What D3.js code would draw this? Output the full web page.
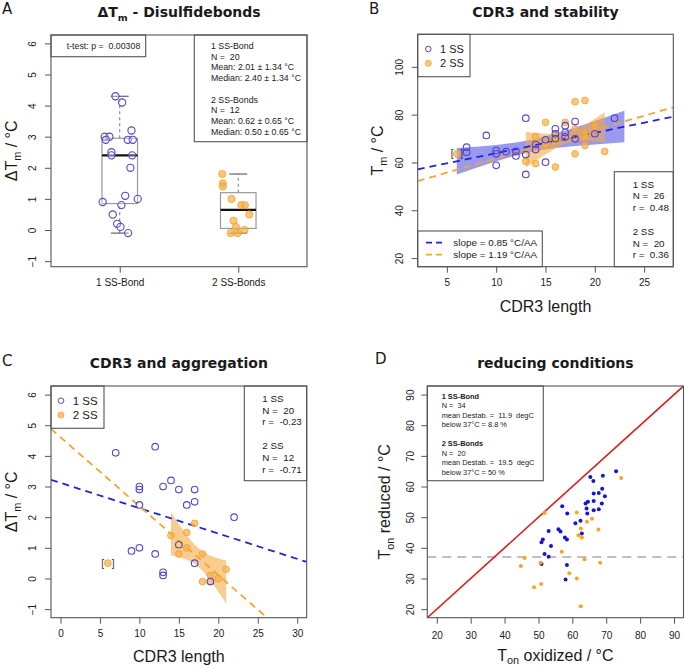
<!DOCTYPE html>
<html><head><meta charset="utf-8">
<script src="https://cdn.jsdelivr.net/npm/d3@7"></script>
<style>body{margin:0;background:#fff} svg{display:block} text{white-space:pre}</style>
</head><body><svg id="c" width="685" height="668"></svg>
<script>
// ---------------- DATA ----------------
// Panel A: ΔTm by number of disulfide bonds
const catsA = ["1 SS-Bond", "2 SS-Bonds"];
const dtm1 = [4.3,4.1,3.2,3.0,3.0,2.9,2.9,2.9,2.5,2.4,2.4,2.0,1.1,0.9,1.0,0.8,0.5,0.2,0.1,-0.1];
const jit1 = [-0.036,0.02,0.099,-0.127,-0.087,-0.118,0.068,0.11,-0.07,-0.07,0.105,0.09,0.046,-0.144,0.152,0.014,-0.059,-0.022,0.006,0.071];
const dtm2 = [1.8,1.5,1.4,1.0,0.8,0.8,0.5,0.3,0.1,0.0,-0.1,-0.1];
const jit2 = [-0.135,-0.13,-0.13,-0.057,0.025,0.056,0.093,-0.04,-0.02,0.053,-0.065,-0.006];
const ticksA = [-1,0,1,2,3,4,5,6];
const pTextA = "t-test: p =  0.00308";
const statsA = ["1 SS-Bond","N =  20","Mean: 2.01 ± 1.34 °C","Median: 2.40 ± 1.34 °C","","2 SS-Bonds","N =  12","Mean: 0.62 ± 0.65 °C","Median: 0.50 ± 0.65 °C"];

// Panel B: CDR3 length vs Tm
const cdrB1 = [7,7,9,10,10,10,11,12,12,13,13,13,14,14,15,15,16,16,16,17,17,17,18,18,20,22];
const tmB1  = [66.4,64.3,71.3,65.0,63.6,58.8,64.5,64.6,62.7,78.5,63.3,55.0,65.4,67.5,60.1,69.5,74.1,72.0,70.0,75.4,70.6,72.5,77.1,69.9,72.0,78.5];
const cdrB2 = [6,13,14,14,15,15,16,16,16,17,18,18,18,19,19,19,19,20,20,21];
const tmB2  = [63.6,60.4,59.5,70.8,76.8,67.4,71.3,58.1,69.0,76.8,85.4,74.0,63.6,85.9,72.0,70.6,67.1,75.4,73.4,64.6];
const fitB_int = [55.4, 49.8], fitB_slope = [0.85, 1.19];
const bandB1_x  = [6,8,10,12,14,16,18,20,23];
const bandB1_lo = [55.0,57.8,60.5,62.9,64.8,66.0,66.9,67.5,68.4];
const bandB1_hi = [66.0,66.6,67.3,68.3,69.8,72.0,74.5,77.3,81.6];
const bandB2_x  = [13,14,15,16,17,18,19,20,21];
const bandB2_lo = [57.9,60.6,63.3,65.8,67.9,69.0,69.1,68.9,68.5];
const bandB2_hi = [72.7,72.4,72.0,71.8,72.1,73.5,75.7,78.3,81.0];
const xTicksB = [5,10,15,20,25], yTicksB = [20,40,60,80,100];
const legB = ["1 SS","2 SS"];
const slopeB = ["slope = 0.85 °C/AA","slope = 1.19 °C/AA"];
const statsB = ["1 SS","N =  26","r =  0.48","","2 SS","N =  20","r =  0.36"];

// Panel C: CDR3 length vs ΔTm
const cdrC1 = [7,12,10,10,13,14,15,17,10,16,17,22,9,10,12,13,13,15,17,19];
const dtmC1 = [4.1,4.3,3.0,2.9,3.0,3.2,2.9,2.9,2.4,2.4,2.5,2.0,0.9,1.0,0.8,0.2,0.1,1.1,0.5,-0.1];
const cdrC2 = [6,14,16,17,15,16,18,19,19,18,20,21];
const dtmC2 = [0.5,1.4,1.5,1.8,0.8,1.0,0.8,0.1,-0.1,-0.1,0.0,0.3];
const fitC_int = [3.12, 4.61], fitC_slope = [-0.0827, -0.225];
const bandC2_x  = [14,15,16,17,18,19,20,21];
const bandC2_lo = [0.76,0.70,0.61,0.48,0.25,-0.07,-0.43,-0.82];
const bandC2_hi = [2.16,1.78,1.41,1.10,0.87,0.74,0.65,0.59];
const xTicksC = [0,5,10,15,20,25,30], yTicksC = [-1,0,1,2,3,4,5,6];
const statsC = ["1 SS","N =  20","r =  -0.23","","2 SS","N =  12","r =  -0.71"];

// Panel D: Ton oxidized vs reduced
const toxD1 = [65.3,66.2,69.0,72.9,68.8,66.3,67.8,69.6,63.9,64.6,66.3,68.7,64.2,64.4,66.3,67.8,57.0,58.5,60.9,62.4,62.8,53.0,55.9,56.5,57.8,58.4,51.3,50.9,53.7,51.8,53.0,50.9,58.4,58.0];
const tredD1 = [63.1,61.8,63.5,65.0,59.3,57.7,57.9,56.8,54.5,55.0,55.3,54.5,52.8,51.2,52.3,52.6,53.6,51.2,48.0,48.8,44.7,45.5,46.1,45.3,43.4,42.7,42.7,41.8,40.6,38.0,37.1,34.7,34.4,29.7];
const toxD2 = [74.4,51.8,61.3,64.3,65.8,62.5,67.7,61.8,62.8,56.9,45.9,50.6,44.8,63.6,68.2,59.1,61.3,50.8,48.7,62.5];
const tredD2 = [62.8,51.4,51.5,48.5,49.5,46.3,46.0,44.1,43.4,38.7,36.7,35.1,34.1,36.3,35.1,31.7,30.0,28.2,27.1,20.9];
const ticksD = [20,30,40,50,60,70,80,90];
const threshD = 37;
const statsD = ["1 SS-Bond","N =  34","mean Destab. =  11.9  degC","below 37°C = 8.8 %","","2 SS-Bonds","N =  20","mean Destab. =  19.5  degC","below 37°C = 50 %"];
const boldD = [0,5];

// ---------------- STYLE ----------------
const F = '"Liberation Sans", Arial, sans-serif';
const FB = '"DejaVu Sans", Verdana, sans-serif';
const TXT = "#1a1a1a", AX = "#555";
const BLUE = "#5546cc", ORF = "rgba(246,176,70,0.72)", ORS = "rgba(240,160,40,0.75)";
const BLUEL = "#2323dd", ORL = "#f2a531";

const svg = d3.select("#c");

// ---------------- HELPERS ----------------
function fivenum(a){ const x=[...a].sort((p,q)=>p-q), n=x.length; const n4=Math.floor((n+3)/2)/2;
  return [1,n4,(n+1)/2,n+1-n4,n].map(d=>0.5*(x[Math.floor(d)-1]+x[Math.ceil(d)-1])); }
function frame(g,b){ g.append("rect").attr("x",b.l).attr("y",b.t).attr("width",b.r-b.l).attr("height",b.b-b.t)
  .attr("fill","none").attr("stroke",AX).attr("stroke-width",1.1); }
function clip(id,b){ svg.append("clipPath").attr("id",id).append("rect").attr("x",b.l).attr("y",b.t).attr("width",b.r-b.l).attr("height",b.b-b.t); }
function yAxis(g,b,y,ticks,fs,off){
  const ax=g.append("g").attr("transform",`translate(${b.l},0)`).attr("font-family",F).attr("font-size",fs)
    .call(d3.axisLeft(y).tickValues(ticks).tickSize(6).tickSizeOuter(0));
  ax.select(".domain").remove(); ax.selectAll("line").attr("stroke",AX);
  ax.selectAll("text").attr("transform","rotate(-90)").attr("x",0).attr("y",-off).attr("dy",0)
    .attr("text-anchor","middle").attr("fill",TXT);
}
function xAxis(g,b,x,ticks,fs,pad,fmt){
  const a=d3.axisBottom(x).tickValues(ticks).tickSize(6).tickSizeOuter(0).tickPadding(pad);
  if(fmt) a.tickFormat(fmt);
  const ax=g.append("g").attr("transform",`translate(0,${b.b})`).attr("font-family",F).attr("font-size",fs).call(a);
  ax.select(".domain").remove(); ax.selectAll("line").attr("stroke",AX); ax.selectAll("text").attr("fill",TXT);
}
function subText(g,x,y,parts,fs,opts={}){
  const t=g.append("text").attr("x",x).attr("y",y).attr("font-size",fs).attr("fill",TXT)
    .attr("font-family",opts.font||F).attr("font-weight",opts.bold?"bold":"normal").attr("text-anchor","middle");
  if(opts.rot) t.attr("transform",`rotate(-90,${x},${y})`);
  const sh=opts.shift||0.28;
  let shifted=false;
  parts.forEach(p=>{
    const s=t.append("tspan").text(p.t);
    if(p.sub){ s.attr("font-size",fs*0.68).attr("dy",fs*sh); shifted=true; }
    else if(shifted){ s.attr("dy",-fs*sh); shifted=false; }
  });
  return t;
}
function lines(g,x,y0,dy,arr,fs,bold=[]){
  arr.forEach((s,i)=>{ if(!s) return; g.append("text").attr("x",x).attr("y",y0+i*dy).attr("font-family",F)
    .attr("font-size",fs).attr("fill",TXT).attr("font-weight",bold.includes(i)?"bold":"normal").text(s); });
}
function box(g,x0,y0,x1,y1){ g.append("rect").attr("x",x0).attr("y",y0).attr("width",x1-x0).attr("height",y1-y0)
  .attr("fill","#fff").attr("stroke",AX).attr("stroke-width",1.1); }
function letter(g,x,y,s){ g.append("text").attr("x",x).attr("y",y).attr("font-family",FB).attr("font-size",15).attr("fill",TXT).text(s); }
function title(g,x,y,parts){ subText(g,x,y,parts,14,{font:FB,bold:true}); }

// ================= PANEL A =================
{
  const g=svg.append("g"), b={l:51,t:35,r:307,b:266.7};
  const x=d3.scaleLinear().domain([0.42,2.58]).range([b.l,b.r]);
  const y=d3.scaleLinear().domain([-1.18,6.27]).range([b.b,b.t]);
  const wex=0.15;
  [dtm1,dtm2].forEach((d,i)=>{
    const f=fivenum(d), c=i+1;
    g.append("line").attr("x1",x(c)).attr("x2",x(c)).attr("y1",y(f[0])).attr("y2",y(f[1])).attr("stroke","#777").attr("stroke-dasharray","3,3");
    g.append("line").attr("x1",x(c)).attr("x2",x(c)).attr("y1",y(f[3])).attr("y2",y(f[4])).attr("stroke","#777").attr("stroke-dasharray","3,3");
    [f[0],f[4]].forEach(v=>g.append("line").attr("x1",x(c-wex/2)).attr("x2",x(c+wex/2)).attr("y1",y(v)).attr("y2",y(v)).attr("stroke","#555").attr("stroke-width",1.1));
    g.append("rect").attr("x",x(c-wex)).attr("y",y(f[3])).attr("width",x(c+wex)-x(c-wex)).attr("height",y(f[1])-y(f[3]))
      .attr("fill","none").attr("stroke","#999").attr("stroke-width",1.2);
    g.append("line").attr("x1",x(c-wex)).attr("x2",x(c+wex)).attr("y1",y(f[2])).attr("y2",y(f[2])).attr("stroke","#111").attr("stroke-width",2.2);
  });
  g.selectAll(".p1").data(dtm1).join("circle").attr("cx",(d,i)=>x(1+jit1[i])).attr("cy",d=>y(d)).attr("r",3.6)
    .attr("fill","rgba(255,255,255,0.3)").attr("stroke",BLUE).attr("stroke-width",1.1);
  g.selectAll(".p2").data(dtm2).join("circle").attr("cx",(d,i)=>x(2+jit2[i])).attr("cy",d=>y(d)).attr("r",3.6)
    .attr("fill",ORF).attr("stroke",ORS).attr("stroke-width",1);
  box(g,b.l,b.t,145.7,56.7); lines(g,66.7,49,0,[pTextA],8.8);
  box(g,194.3,b.t,b.r,141.7); lines(g,211,49,10.7,statsA,8.8);
  frame(g,b);
  yAxis(g,b,y,ticksA,12,15);
  xAxis(g,b,x,[1,2],12.5,6,d=>catsA[d-1]);
  subText(g,17,(b.t+b.b)/2,[{t:"ΔT"},{t:"m",sub:true},{t:" / °C"}],16,{rot:true});
  title(g,(b.l+b.r)/2,17,[{t:"ΔT"},{t:"m",sub:true},{t:" - Disulfidebonds"}]);
  letter(g,2,14,"A");
}

// ================= PANEL B =================
{
  const g=svg.append("g"), b={l:417.7,t:34.3,r:673.3,b:266.7};
  clip("clipB",b);
  const x=d3.scaleLinear().domain([2.04,27.96]).range([b.l,b.r]);
  const y=d3.scaleLinear().domain([16.4,113.6]).range([b.b,b.t]);
  const area=(xs,lo,hi)=>d3.area().x((d,i)=>x(xs[i])).y0((d,i)=>y(lo[i])).y1((d,i)=>y(hi[i]))(xs);
  g.append("path").attr("d",area(bandB1_x,bandB1_lo,bandB1_hi)).attr("fill","rgba(80,80,225,0.58)");
  g.append("path").attr("d",area(bandB2_x,bandB2_lo,bandB2_hi)).attr("fill","rgba(245,170,70,0.6)");
  const dom=x.domain();
  [0,1].forEach(i=>g.append("line").attr("clip-path","url(#clipB)")
    .attr("x1",x(dom[0])).attr("y1",y(fitB_int[i]+fitB_slope[i]*dom[0]))
    .attr("x2",x(dom[1])).attr("y2",y(fitB_int[i]+fitB_slope[i]*dom[1]))
    .attr("stroke",i?ORL:BLUEL).attr("stroke-width",1.8).attr("stroke-dasharray","7,5"));
  g.selectAll(".b2").data(tmB2).join("circle").attr("cx",(d,i)=>x(cdrB2[i])).attr("cy",d=>y(d)).attr("r",3.4)
    .attr("fill",ORF).attr("stroke",ORS).attr("stroke-width",1);
  g.selectAll(".b1").data(tmB1).join("circle").attr("cx",(d,i)=>x(cdrB1[i])).attr("cy",d=>y(d)).attr("r",3.3)
    .attr("fill","none").attr("stroke",BLUE).attr("stroke-width",1.1);
  const bx=x(cdrB2[0]), by=y(tmB2[0]);
  g.append("text").attr("x",bx-4.5).attr("y",by+3.5).attr("text-anchor","middle").attr("font-family",F).attr("font-size",10).attr("fill","#333").text("[");
  g.append("text").attr("x",bx+4.8).attr("y",by+3.5).attr("text-anchor","middle").attr("font-family",F).attr("font-size",10).attr("fill","#333").text("]");
  box(g,b.l,b.t,470,76.7);
  g.append("circle").attr("cx",428.3).attr("cy",49).attr("r",2.8).attr("fill","none").attr("stroke",BLUE);
  g.append("circle").attr("cx",428.3).attr("cy",63.3).attr("r",3).attr("fill",ORF).attr("stroke",ORS);
  lines(g,440,53,14.3,legB,11);
  box(g,b.l,231,542.3,b.b);
  [0,1].forEach(i=>g.append("line").attr("x1",426).attr("x2",446).attr("y1",242.7+12*i).attr("y2",242.7+12*i)
    .attr("stroke",i?ORL:BLUEL).attr("stroke-width",1.8).attr("stroke-dasharray","6,4"));
  lines(g,453.3,246.2,12,slopeB,9.9);
  box(g,614.3,171.7,b.r,b.b);
  lines(g,632.7,187.5,11.8,statsB,9.8);
  frame(g,b);
  yAxis(g,b,y,yTicksB,12,15);
  xAxis(g,b,x,xTicksB,12.5,6);
  subText(g,383,(b.t+b.b)/2,[{t:"T"},{t:"m",sub:true},{t:" / °C"}],16,{rot:true});
  subText(g,(b.l+b.r)/2,311.5,[{t:"CDR3 length"}],16);
  title(g,(b.l+b.r)/2,17,[{t:"CDR3 and stability"}]);
  letter(g,369,14,"B");
}

// ================= PANEL C =================
{
  const g=svg.append("g"), b={l:51,t:386,r:306.7,b:617.7};
  clip("clipC",b);
  const x=d3.scaleLinear().domain([-1.2,31.2]).range([b.l,b.r]);
  const y=d3.scaleLinear().domain([-1.28,6.28]).range([b.b,b.t]);
  g.append("path").attr("d",d3.area().x((d,i)=>x(bandC2_x[i])).y0((d,i)=>y(bandC2_lo[i])).y1((d,i)=>y(bandC2_hi[i]))(bandC2_x))
    .attr("fill","rgba(245,170,70,0.6)");
  const dom=x.domain();
  [0,1].forEach(i=>g.append("line").attr("clip-path","url(#clipC)")
    .attr("x1",x(dom[0])).attr("y1",y(fitC_int[i]+fitC_slope[i]*dom[0]))
    .attr("x2",x(dom[1])).attr("y2",y(fitC_int[i]+fitC_slope[i]*dom[1]))
    .attr("stroke",i?ORL:BLUEL).attr("stroke-width",1.8).attr("stroke-dasharray","7,5"));
  g.selectAll(".c2").data(dtmC2).join("circle").attr("cx",(d,i)=>x(cdrC2[i])).attr("cy",d=>y(d)).attr("r",3.4)
    .attr("fill",ORF).attr("stroke",ORS).attr("stroke-width",1);
  g.selectAll(".c1").data(dtmC1).join("circle").attr("cx",(d,i)=>x(cdrC1[i])).attr("cy",d=>y(d)).attr("r",3.3)
    .attr("fill","none").attr("stroke",BLUE).attr("stroke-width",1.1);
  const bx=x(cdrC2[0]), by=y(dtmC2[0]);
  g.append("text").attr("x",bx-5.3).attr("y",by+3.5).attr("text-anchor","middle").attr("font-family",F).attr("font-size",10).attr("fill","#333").text("[");
  g.append("text").attr("x",bx+5.3).attr("y",by+3.5).attr("text-anchor","middle").attr("font-family",F).attr("font-size",10).attr("fill","#333").text("]");
  box(g,b.l,b.t,104,428.3);
  g.append("circle").attr("cx",61).attr("cy",400.7).attr("r",2.8).attr("fill","none").attr("stroke",BLUE);
  g.append("circle").attr("cx",61).attr("cy",415).attr("r",3).attr("fill",ORF).attr("stroke",ORS);
  lines(g,72.7,404.7,14.3,legB,11.5);
  box(g,244.3,b.t,b.r,480.7);
  lines(g,262.3,401.8,11.8,statsC,9.8);
  frame(g,b);
  yAxis(g,b,y,yTicksC,12,15);
  xAxis(g,b,x,xTicksC,12.5,6);
  subText(g,17,(b.t+b.b)/2,[{t:"ΔT"},{t:"m",sub:true},{t:" / °C"}],16,{rot:true});
  subText(g,(b.l+b.r)/2,661.5,[{t:"CDR3 length"}],16);
  title(g,(b.l+b.r)/2,368.3,[{t:"CDR3 and aggregation"}]);
  letter(g,2,366,"C");
}

// ================= PANEL D =================
{
  const g=svg.append("g"), b={l:427.3,t:386,r:683.5,b:617.7};
  clip("clipD",b);
  const x=d3.scaleLinear().domain([17.2,92.8]).range([b.l,b.r]);
  const y=d3.scaleLinear().domain([17.2,92.8]).range([b.b,b.t]);
  const dom=x.domain();
  g.append("line").attr("clip-path","url(#clipD)").attr("x1",x(dom[0])).attr("x2",x(dom[1])).attr("y1",y(threshD)).attr("y2",y(threshD))
    .attr("stroke","#aaa").attr("stroke-width",1.6).attr("stroke-dasharray","9,6");
  g.append("line").attr("clip-path","url(#clipD)").attr("x1",x(dom[0])).attr("y1",y(dom[0])).attr("x2",x(dom[1])).attr("y2",y(dom[1]))
    .attr("stroke","#dd2020").attr("stroke-width",1.6);
  g.selectAll(".d1").data(tredD1).join("circle").attr("cx",(d,i)=>x(toxD1[i])).attr("cy",d=>y(d)).attr("r",2).attr("fill","#1515d8");
  g.selectAll(".d2").data(tredD2).join("circle").attr("cx",(d,i)=>x(toxD2[i])).attr("cy",d=>y(d)).attr("r",2).attr("fill","#f5a623");
  box(g,b.l,b.t,543.3,480.7);
  lines(g,441.7,398.8,9.5,statsD,7.4,boldD);
  frame(g,b);
  yAxis(g,b,y,ticksD,9.8,13);
  xAxis(g,b,x,ticksD,9.8,8);
  subText(g,390,(b.t+b.b)/2,[{t:"T"},{t:"on",sub:true},{t:" reduced / °C"}],16,{rot:true});
  subText(g,(b.l+b.r)/2,660.5,[{t:"T"},{t:"on",sub:true},{t:" oxidized / °C"}],16,{shift:0.22});
  title(g,(b.l+b.r)/2,368.3,[{t:"reducing conditions"}]);
  letter(g,375,364,"D");
}
</script></body></html>
